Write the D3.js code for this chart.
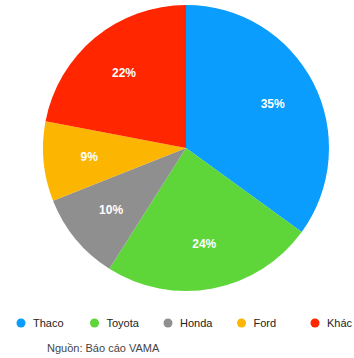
<!DOCTYPE html>
<html>
<head>
<meta charset="utf-8">
<script src="https://cdn.jsdelivr.net/npm/d3@7"></script>
<style>
  body { margin: 0; background: #fff; }
  text { font-family: "Liberation Sans", Arial, sans-serif; }
</style>
</head>
<body>
<div id="chart"></div>
<script>
const brands = ["Thaco", "Toyota", "Honda", "Ford", "Khác"];
const shares = [35, 24, 10, 9, 22];
const colors = ["#0a9dfd", "#5ed63a", "#8f8f8f", "#fcb500", "#ff2600"];
const source = "Nguồn: Báo cáo VAMA";

function init() {
    const w = 354;
    const h = 358;
    const cx = 186, cy = 148;
    const radius = 143;

    const svg = d3.select("#chart")
        .append("svg")
        .attr("width", w)
        .attr("height", h);

    const data = brands.map((b, i) => ({ brand: b, value: shares[i] }));

    const pie = d3.pie()
        .sort(null)
        .value(d => d.value);

    const arc = d3.arc()
        .innerRadius(0)
        .outerRadius(radius);

    const labelArc = d3.arc()
        .innerRadius(radius * 0.68)
        .outerRadius(radius * 0.68);

    const color = d3.scaleOrdinal().domain(brands).range(colors);

    const g = svg.append("g")
        .attr("transform", "translate(" + cx + "," + cy + ")");

    const arcs = g.selectAll("g.arc")
        .data(pie(data))
        .enter()
        .append("g")
        .attr("class", "arc");

    arcs.append("path")
        .attr("fill", d => color(d.data.brand))
        .attr("d", arc);

    // percentage labels
    arcs.append("text")
        .attr("transform", d => "translate(" + labelArc.centroid(d) + ")")
        .attr("text-anchor", "middle")
        .attr("dy", "0.35em")
        .attr("fill", "#fff")
        .attr("font-size", 12)
        .attr("font-weight", "bold")
        .text(d => d.data.value + "%");

    // legend
    const x = d3.scalePoint().domain(brands).range([21, 315]);
    const legend = svg.selectAll("g.legend")
        .data(brands)
        .enter()
        .append("g")
        .attr("class", "legend")
        .attr("transform", d => "translate(" + x(d) + ",323)");

    legend.append("circle")
        .attr("r", 4.5)
        .attr("fill", d => color(d));

    legend.append("text")
        .attr("x", 12)
        .attr("dy", "0.35em")
        .attr("font-size", 11)
        .attr("fill", "#222")
        .text(d => d);

    svg.append("text")
        .attr("x", 47)
        .attr("y", 352)
        .attr("font-size", 11)
        .attr("fill", "#444")
        .text(source);
}
window.onload = init;
</script>
</body>
</html>
